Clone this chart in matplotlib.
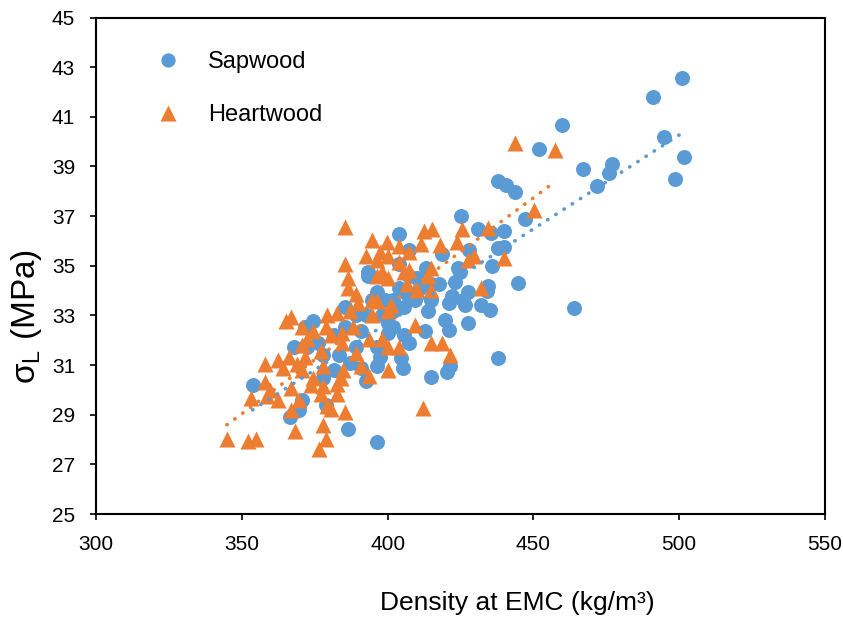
import numpy as np
import matplotlib
matplotlib.use("Agg")
import matplotlib.pyplot as plt

plt.rcParams['font.family'] = ['Liberation Sans', 'DejaVu Sans']

# Sapwood: density at EMC (kg/m3) and sigma_L (MPa)
sap_density = [500.9, 491.1, 494.8, 501.8, 498.5, 459.9, 451.9, 466.9, 476.8, 476.1,
               471.8, 437.8, 440.5, 443.7, 447.0, 425.1, 431.0, 439.8, 435.6, 437.8,
               440.0, 427.9, 435.8, 444.6, 434.5, 434.1, 464.1, 435.0, 431.9, 426.7,
               422.1, 438.0, 420.9, 419.6, 420.3, 421.4, 415.0, 403.8, 393.3, 393.3,
               413.3, 418.5, 424.0, 423.1, 424.9, 407.4, 403.8, 411.1, 413.9, 415.0,
               409.3, 405.6, 401.9, 399.2, 396.4, 394.6, 400.1, 400.1, 405.6, 407.4,
               413.0, 396.4, 397.3, 396.4, 404.7, 405.3, 390.9, 392.7, 386.3, 396.4,
               378.9, 369.7, 366.4, 353.7, 370.6, 371.6, 372.5, 381.7, 383.5, 381.7,
               378.0, 387.2, 389.0, 390.9, 392.7, 389.0, 385.4, 398.2, 401.9, 417.6,
               421.2, 427.7, 425.8, 410.2, 415.0, 407.4, 403.8, 406.5, 401.9, 376.2,
               378.0, 367.9, 374.3, 385.4, 427.7]
sap_sigma = [42.57, 41.78, 40.19, 39.39, 38.48, 40.67, 39.69, 38.91, 39.08, 38.72,
             38.20, 38.40, 38.24, 37.99, 36.90, 37.01, 36.50, 36.39, 36.34, 35.71,
             35.74, 35.63, 35.00, 34.31, 34.20, 34.00, 33.30, 33.20, 33.40, 33.40,
             33.80, 31.30, 32.40, 32.80, 30.71, 30.95, 30.50, 36.29, 34.75, 34.60,
             34.91, 35.47, 34.91, 34.36, 34.75, 35.63, 35.07, 34.12, 33.17, 33.64,
             33.64, 33.33, 33.17, 33.64, 33.96, 33.64, 32.69, 32.30, 32.22, 31.90,
             32.38, 31.74, 31.34, 30.95, 31.27, 30.90, 30.87, 30.35, 28.41, 27.90,
             29.41, 29.20, 28.89, 30.20, 29.60, 32.53, 31.74, 32.22, 31.42, 30.79,
             30.47, 31.10, 31.74, 32.38, 33.00, 33.00, 32.53, 33.00, 32.53, 34.28,
             33.49, 33.96, 33.64, 34.52, 34.28, 34.60, 34.12, 33.88, 33.64, 31.90,
             31.42, 31.74, 32.77, 33.33, 32.69]

# Heartwood
heart_density = [443.7, 457.5, 450.3, 434.5, 425.5, 415.3, 412.4, 385.4, 394.6, 399.7,
                 403.8, 407.4, 411.6, 417.9, 423.9, 392.7, 397.3, 400.1, 396.4, 403.8,
                 385.4, 427.7, 429.5, 440.0, 414.8, 413.9, 407.4, 398.2, 400.1, 396.4,
                 386.3, 386.3, 406.5, 410.2, 414.8, 431.9, 389.0, 389.9, 396.4, 401.0,
                 394.6, 387.2, 382.6, 379.3, 367.0, 365.1, 409.3, 370.6, 374.3, 378.9,
                 380.7, 384.4, 388.1, 384.4, 393.6, 398.2, 400.1, 414.8, 418.5, 403.8,
                 389.0, 421.4, 370.6, 377.1, 357.8, 362.4, 366.1, 364.2, 368.8, 370.6,
                 378.0, 371.6, 374.3, 384.8, 390.9, 400.1, 393.6, 357.8, 359.6, 362.4,
                 367.0, 373.8, 378.0, 382.6, 382.6, 353.2, 358.7, 369.7, 377.2, 379.1,
                 367.0, 385.4, 412.0, 368.4, 378.0, 378.9, 376.5, 344.9, 352.2, 355.0,
                 380.7, 383.9, 372.5, 400.1, 405.6, 394.6]
heart_sigma = [39.96, 39.67, 37.26, 36.53, 36.50, 36.50, 36.39, 36.58, 36.02, 35.94,
               35.78, 35.55, 35.87, 35.83, 35.94, 35.39, 35.55, 35.39, 35.23, 35.15,
               35.07, 35.23, 35.39, 35.31, 34.91, 34.60, 34.83, 34.75, 34.52, 34.60,
               34.52, 34.12, 34.28, 34.04, 34.04, 34.12, 33.88, 33.49, 33.57, 33.41,
               33.00, 33.17, 33.09, 33.00, 32.93, 32.77, 32.61, 32.53, 32.38, 32.53,
               32.22, 32.30, 32.53, 31.90, 32.06, 32.06, 31.74, 31.90, 31.90, 31.71,
               31.50, 31.42, 31.82, 31.58, 31.03, 31.19, 31.34, 30.87, 31.03, 30.79,
               30.95, 31.34, 30.47, 30.79, 30.95, 30.79, 30.55, 30.31, 30.00, 29.60,
               30.08, 30.19, 30.15, 30.23, 29.84, 29.68, 29.76, 29.60, 29.84, 29.36,
               29.20, 29.12, 29.28, 28.33, 28.57, 28.01, 27.62, 28.01, 27.93, 28.01,
               29.25, 30.47, 32.06, 33.17, 34.75, 33.64]

BLUE = '#5B9BD5'
ORANGE = '#ED7D31'


def trend(ax, x, y, color):
    # linear trendline over the data range, dotted like Excel
    x = np.asarray(x)
    k, b = np.polyfit(x, np.asarray(y), 1)
    xs = np.array([x.min(), x.max()])
    ax.plot(xs, k * xs + b, color=color, lw=2.6,
            linestyle=(0, (0.1, 2.6)), dash_capstyle='round', zorder=4)


fig = plt.figure(figsize=(8.43, 6.19), dpi=100)
ax = fig.add_axes([0.1139, 0.1696, 0.8647, 0.8021])

ax.plot(sap_density, sap_sigma, 'o', color=BLUE, ms=10.8, mec='none',
        label='Sapwood', zorder=2)
ax.plot(heart_density, heart_sigma, '^', color=ORANGE, ms=11.8, mec='none',
        label='Heartwood', zorder=3)
trend(ax, sap_density, sap_sigma, BLUE)
trend(ax, heart_density, heart_sigma, ORANGE)

ax.set_xlim(300, 550)
ax.set_ylim(25, 45)
ax.set_xticks(np.arange(300, 551, 50))
ax.set_yticks(np.arange(25, 46, 2))
ax.tick_params(direction='out', length=4, width=1.2, labelsize=15, pad=11)
for s in ax.spines.values():
    s.set_linewidth(1.5)

leg = ax.legend(loc='upper left', bbox_to_anchor=(0.055, 0.975), frameon=False,
                fontsize=17, handlelength=0.9, handletextpad=1.25,
                labelspacing=1.3, markerscale=0.95)

fig.text(517 / 843, 1 - 603 / 619, 'Density at EMC (kg/m³)',
         ha='center', va='center', fontsize=19)
fig.text(26 / 843, 1 - 316 / 619, r'σ$_\mathregular{L}$ (MPa)',
         ha='center', va='center', rotation=90, fontsize=24)

fig.savefig('out.png', dpi=100)
